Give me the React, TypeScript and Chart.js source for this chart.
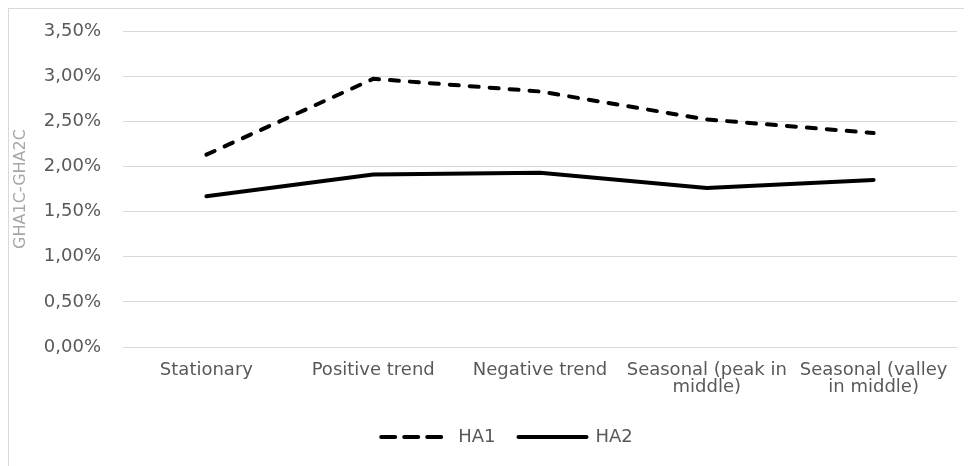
import React, { useEffect, useRef } from "react";
import { Chart, registerables } from "chart.js";

Chart.register(...registerables);

const categories: (string | string[])[] = [
  "Stationary",
  "Positive trend",
  "Negative trend",
  ["Seasonal (peak in", "middle)"],
  ["Seasonal (valley", "in middle)"],
];
const ha1Values = [2.13, 2.97, 2.83, 2.52, 2.37];
const ha2Values = [1.67, 1.91, 1.93, 1.76, 1.85];
const yTickValues = [0, 0.5, 1, 1.5, 2, 2.5, 3, 3.5];
const yTitle = "GHA1C-GHA2C";
const legendDashes: Record<string, number[]> = { HA1: [14, 9], HA2: [] };

const FONT = "'DejaVu Sans', sans-serif";

const legendShift = {
  id: "legendShift",
  afterLayout(chart: any) {
    if (chart.legend) {
      chart.legend.left += 24;
      chart.legend.right += 24;
    }
  },
};

export default function App() {
  const ref = useRef<HTMLCanvasElement | null>(null);
  useEffect(() => {
    if (!ref.current) return;
    const chart = new Chart(ref.current, {
      type: "line",
      data: {
        labels: categories,
        datasets: [
          {
            label: "HA1",
            data: ha1Values,
            borderColor: "#000000",
            backgroundColor: "#000000",
            borderWidth: 4,
            borderDash: [9, 11],
            borderCapStyle: "round",
            borderJoinStyle: "round",
            pointRadius: 0,
            tension: 0,
          },
          {
            label: "HA2",
            data: ha2Values,
            borderColor: "#000000",
            backgroundColor: "#000000",
            borderWidth: 4,
            borderCapStyle: "round",
            borderJoinStyle: "round",
            pointRadius: 0,
            tension: 0,
          },
        ],
      },
      plugins: [legendShift],
      options: {
        animation: false,
        responsive: true,
        maintainAspectRatio: false,
        layout: { padding: { left: 0, right: 7, top: 22, bottom: 10 } },
        plugins: {
          tooltip: { enabled: false },
          legend: {
            position: "bottom",
            labels: {
              usePointStyle: true,
              pointStyle: "line",
              pointStyleWidth: 68,
              boxHeight: 18,
              padding: 23,
              color: "#595959",
              font: { family: FONT, size: 18 },
              generateLabels: (c: any) => {
                const items = (Chart.defaults.plugins.legend.labels as any).generateLabels(c);
                items.forEach((it: any) => {
                  it.lineDash = legendDashes[it.text] || [];
                  it.lineCap = "round";
                  it.lineWidth = 4;
                });
                return items;
              },
            },
          },
        },
        scales: {
          x: {
            offset: true,
            grid: { display: false, drawTicks: false },
            border: { display: true, color: "#d9d9d9", width: 1 },
            ticks: {
              color: "#595959",
              font: { family: FONT, size: 18, lineHeight: 0.95 },
              padding: 15,
              maxRotation: 0,
              autoSkip: false,
            },
            afterFit: (s: any) => {
              s.height = 58;
            },
          },
          y: {
            min: 0,
            max: 3.5,
            afterBuildTicks: (s: any) => {
              s.ticks = yTickValues.map((v) => ({ value: v }));
            },
            grid: {
              color: "#d9d9d9",
              lineWidth: 1,
              drawTicks: true,
              tickLength: 20,
              tickColor: "rgba(0,0,0,0)",
            },
            border: { display: false },
            ticks: {
              color: "#595959",
              font: { family: FONT, size: 18 },
              padding: 2,
              callback: (v: any) => Number(v).toFixed(2).replace(".", ",") + "%",
            },
            title: {
              display: true,
              text: yTitle,
              color: "#a6a6a6",
              font: { family: FONT, size: 16, lineHeight: 1.2 },
              padding: { top: 2.4, bottom: 0 },
            },
            afterFit: (s: any) => {
              s.width = 114;
            },
          },
        },
      },
    });
    return () => chart.destroy();
  }, []);
  return (
    <div
      style={{
        height: 458,
        borderTop: "1px solid #d9d9d9",
        borderLeft: "1px solid #d9d9d9",
        position: "relative",
        boxSizing: "border-box",
      }}
    >
      <canvas ref={ref} />
    </div>
  );
}
